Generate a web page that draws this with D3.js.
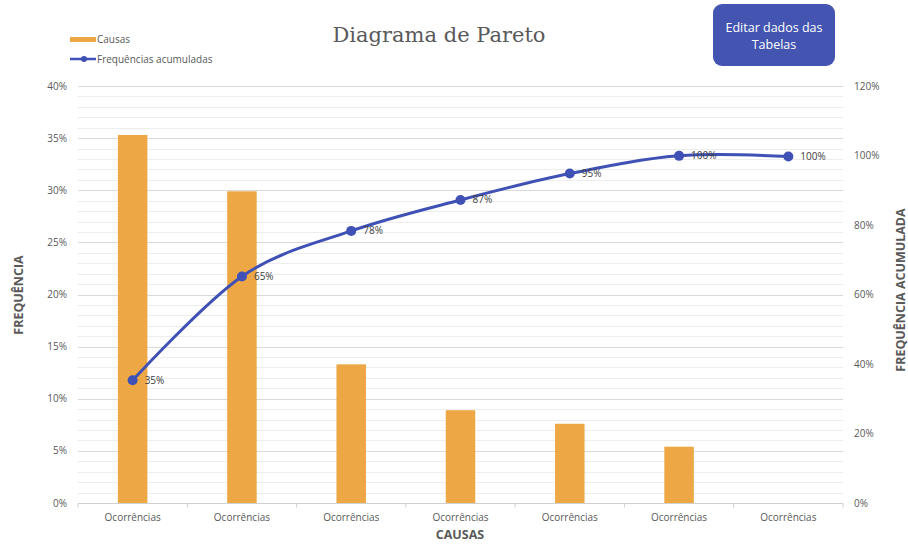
<!DOCTYPE html>
<html>
<head>
<meta charset="utf-8">
<script src="https://cdn.jsdelivr.net/npm/d3@7"></script>
<style>
  body { margin: 0; background: #fff; }
  svg { display: block; }
</style>
</head>
<body>
<div id="chart"></div>
<script>
// dados
const categorias = ['Ocorrências', 'Ocorrências', 'Ocorrências', 'Ocorrências', 'Ocorrências', 'Ocorrências', 'Ocorrências'];
const frequencias = [0.353, 0.299, 0.133, 0.089, 0.076, 0.054, 0];
const acumuladas = [0.353, 0.652, 0.783, 0.872, 0.948, 0.999, 0.997];
const ticksEsq = [0, 0.05, 0.10, 0.15, 0.20, 0.25, 0.30, 0.35, 0.40];
const ticksDir = [0, 0.2, 0.4, 0.6, 0.8, 1.0, 1.2];

const W = 908, H = 545;
const M = { left: 78, right: 843, top: 86, bottom: 503 };
const FONT = '"Open Sans", Lato, sans-serif';
const COR_BARRA = '#EDA745';
const COR_LINHA = '#3F51B5';
const CINZA = '#595959';

const svg = d3.select('#chart').append('svg')
    .attr('width', W)
    .attr('height', H);

const x = d3.scaleBand()
    .domain(d3.range(categorias.length))
    .range([M.left, M.right])
    .paddingInner(0.73)
    .paddingOuter(0.365);

const yEsq = d3.scaleLinear().domain([0, 0.4]).range([M.bottom, M.top]);
const yDir = d3.scaleLinear().domain([0, 1.2]).range([M.bottom, M.top]);

// grade secundária (1%) e principal (5%)
svg.append('g')
    .selectAll('line')
    .data(d3.range(1, 40).filter(i => i % 5 !== 0))
    .enter().append('line')
    .attr('x1', M.left).attr('x2', M.right)
    .attr('y1', d => Math.round(yEsq(d / 100)) + 0.5)
    .attr('y2', d => Math.round(yEsq(d / 100)) + 0.5)
    .attr('stroke', '#ededed');

svg.append('g')
    .selectAll('line')
    .data(ticksEsq.slice(1))
    .enter().append('line')
    .attr('x1', M.left).attr('x2', M.right)
    .attr('y1', d => Math.round(yEsq(d)) + 0.5)
    .attr('y2', d => Math.round(yEsq(d)) + 0.5)
    .attr('stroke', '#d9d9d9');

// eixo x
const eixoX = svg.append('g')
    .attr('transform', 'translate(0,' + (M.bottom + 0.5) + ')');
eixoX.append('line')
    .attr('x1', M.left).attr('x2', M.right)
    .attr('stroke', '#d0d0d0');
const passo = x.step();
eixoX.selectAll('.tick')
    .data(d3.range(categorias.length + 1))
    .enter().append('line')
    .attr('x1', i => M.left + i * passo).attr('x2', i => M.left + i * passo)
    .attr('y1', 0).attr('y2', 4)
    .attr('stroke', '#d0d0d0');
eixoX.selectAll('text')
    .data(categorias)
    .enter().append('text')
    .attr('x', (d, i) => x(i) + x.bandwidth() / 2)
    .attr('y', 17)
    .attr('text-anchor', 'middle')
    .style('font-family', FONT)
    .style('font-size', '10px')
    .style('fill', CINZA)
    .text(d => d);

// barras
svg.append('g')
    .selectAll('rect')
    .data(frequencias)
    .enter().append('rect')
    .attr('x', (d, i) => x(i))
    .attr('y', d => yEsq(d))
    .attr('width', x.bandwidth())
    .attr('height', d => M.bottom - yEsq(d))
    .attr('fill', COR_BARRA);

// rótulos dos eixos
svg.append('g')
    .selectAll('text')
    .data(ticksEsq)
    .enter().append('text')
    .attr('x', 67)
    .attr('y', d => yEsq(d) + 3.5)
    .attr('text-anchor', 'end')
    .style('font-family', FONT)
    .style('font-size', '10px')
    .style('fill', CINZA)
    .text(d3.format('.0%'));

svg.append('g')
    .selectAll('text')
    .data(ticksDir)
    .enter().append('text')
    .attr('x', 854)
    .attr('y', d => yDir(d) + 3.5)
    .style('font-family', FONT)
    .style('font-size', '10px')
    .style('fill', CINZA)
    .text(d3.format('.0%'));

// linha acumulada
const linha = d3.line()
    .x((d, i) => x(i) + x.bandwidth() / 2)
    .y(d => yDir(d))
    .curve(d3.curveCatmullRom.alpha(0));

svg.append('path')
    .datum(acumuladas)
    .attr('d', linha)
    .attr('fill', 'none')
    .attr('stroke', COR_LINHA)
    .attr('stroke-width', 3);

svg.append('g')
    .selectAll('circle')
    .data(acumuladas)
    .enter().append('circle')
    .attr('cx', (d, i) => x(i) + x.bandwidth() / 2)
    .attr('cy', d => yDir(d))
    .attr('r', 5)
    .attr('fill', COR_LINHA);

svg.append('g')
    .selectAll('text')
    .data(acumuladas)
    .enter().append('text')
    .attr('x', (d, i) => x(i) + x.bandwidth() / 2 + 12)
    .attr('y', d => yDir(d) + 3.5)
    .style('font-family', FONT)
    .style('font-size', '10px')
    .style('fill', '#404040')
    .text(d3.format('.0%'));

// títulos
svg.append('text')
    .attr('x', 439).attr('y', 42)
    .attr('text-anchor', 'middle')
    .style('font-family', '"DejaVu Serif", serif')
    .style('font-size', '21px')
    .style('fill', CINZA)
    .text('Diagrama de Pareto');

svg.append('text')
    .attr('transform', 'translate(23,295)rotate(-90)')
    .attr('text-anchor', 'middle')
    .style('font-family', FONT)
    .style('font-size', '12.5px')
    .style('font-weight', 'bold')
    .style('fill', CINZA)
    .text('FREQUÊNCIA');

svg.append('text')
    .attr('transform', 'translate(905,290)rotate(-90)')
    .attr('text-anchor', 'middle')
    .style('font-family', FONT)
    .style('font-size', '12.5px')
    .style('font-weight', 'bold')
    .style('fill', CINZA)
    .text('FREQUÊNCIA ACUMULADA');

svg.append('text')
    .attr('x', 460).attr('y', 539)
    .attr('text-anchor', 'middle')
    .style('font-family', FONT)
    .style('font-size', '12.5px')
    .style('font-weight', 'bold')
    .style('fill', CINZA)
    .text('CAUSAS');

// legenda
const leg = svg.append('g');
leg.append('rect')
    .attr('x', 70).attr('y', 37)
    .attr('width', 26).attr('height', 5)
    .attr('fill', COR_BARRA);
leg.append('text')
    .attr('x', 97).attr('y', 42.5)
    .style('font-family', FONT)
    .style('font-size', '10px')
    .style('fill', CINZA)
    .text('Causas');
leg.append('line')
    .attr('x1', 70).attr('x2', 96)
    .attr('y1', 59).attr('y2', 59)
    .attr('stroke', COR_LINHA)
    .attr('stroke-width', 2.5);
leg.append('circle')
    .attr('cx', 84).attr('cy', 59).attr('r', 3)
    .attr('fill', COR_LINHA);
leg.append('text')
    .attr('x', 97).attr('y', 62.5)
    .style('font-family', FONT)
    .style('font-size', '10px')
    .style('fill', CINZA)
    .text('Frequências acumuladas');

// botão
const btn = svg.append('g');
btn.append('rect')
    .attr('x', 713).attr('y', 4)
    .attr('width', 122).attr('height', 62)
    .attr('rx', 9)
    .attr('fill', '#4355B0');
btn.append('text')
    .attr('x', 774).attr('y', 32)
    .attr('text-anchor', 'middle')
    .style('font-family', FONT)
    .style('font-size', '12.5px')
    .style('fill', '#fff')
    .text('Editar dados das');
btn.append('text')
    .attr('x', 774).attr('y', 49)
    .attr('text-anchor', 'middle')
    .style('font-family', FONT)
    .style('font-size', '12.5px')
    .style('fill', '#fff')
    .text('Tabelas');
</script>
</body>
</html>
